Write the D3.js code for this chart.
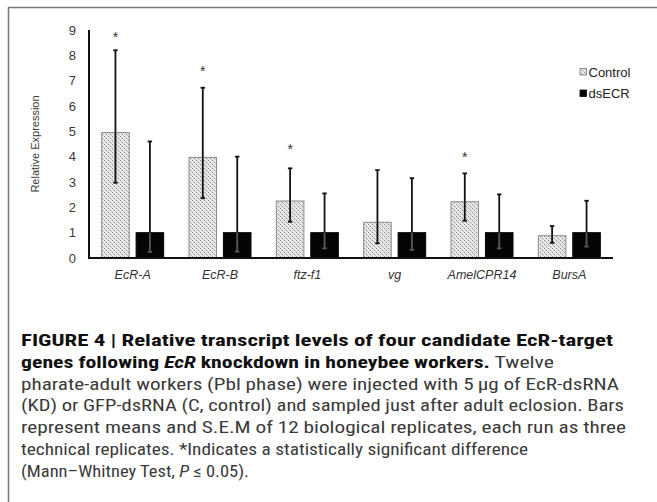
<!DOCTYPE html>
<html>
<head>
<meta charset="utf-8">
<script src="https://cdn.jsdelivr.net/npm/d3@7"></script>
<style>
body{margin:0;background:#fff;}
svg{display:block;}
</style>
</head>
<body>
<svg id="fig" width="657" height="502"></svg>
<script>
// values
var genes=["EcR-A","EcR-B","ftz-f1","vg","AmelCPR14","BursA"];
var groups=["Control","dsECR"];
var controlMean=[4.95,3.97,2.25,1.41,2.22,0.88];
var controlUpper=[8.2,6.72,3.54,3.47,3.34,1.26];
var controlLower=[2.97,2.36,1.43,0.58,1.47,0.6];
var dsecrMean=[1,1,1,1,1,1];
var dsecrUpper=[4.6,4.0,2.55,3.15,2.51,2.26];
var dsecrLower=[0.24,0.25,0.38,0.32,0.38,0.45];
var starAt=[8.8,7.45,4.4,null,4.05,null];
var yTicks=[0,1,2,3,4,5,6,7,8,9];

// caption lines: [text, style] pieces, style b=bold, i=italic
var caption=[
 [["FIGURE 4 | Relative transcript levels of four candidate EcR-target","b"]],
 [["genes following ","b"],["EcR","bi"],[" knockdown in honeybee workers.","b"],[" Twelve",""]],
 [["pharate-adult workers (Pbl phase) were injected with 5\u2009\u00b5g of EcR-dsRNA",""]],
 [["(KD) or GFP-dsRNA (C, control) and sampled just after adult eclosion. Bars",""]],
 [["represent means and S.E.M of 12 biological replicates, each run as three",""]],
 [["technical replicates. *Indicates a statistically significant difference",""]],
 [["(Mann\u2013Whitney Test, ",""],["P","i"],[" \u2264 0.05).",""]]
];
var captionWidth=[592,533,598,603,605,507,228];

var svg=d3.select("#fig");

var defs=svg.append("defs");
var pat=defs.append("pattern")
  .attr("id","dots")
  .attr("patternUnits","userSpaceOnUse")
  .attr("width",4).attr("height",4);
pat.append("rect").attr("width",4).attr("height",4).attr("fill","#e6e6e6");
pat.append("rect").attr("x",0).attr("y",0).attr("width",1).attr("height",1).attr("fill","#8f8f8f");
pat.append("rect").attr("x",2).attr("y",2).attr("width",1).attr("height",1).attr("fill","#8f8f8f");
pat.append("rect").attr("x",1).attr("y",1).attr("width",1).attr("height",1).attr("fill","#c8c8c8");
pat.append("rect").attr("x",3).attr("y",3).attr("width",1).attr("height",1).attr("fill","#c8c8c8");

// frame (top + left edges)
svg.append("line").attr("x1",8).attr("x2",657).attr("y1",7.5).attr("y2",7.5)
  .attr("stroke","#777").attr("stroke-width",1.5);
svg.append("line").attr("x1",8.5).attr("x2",8.5).attr("y1",7).attr("y2",502)
  .attr("stroke","#777").attr("stroke-width",1.5);

var y=d3.scaleLinear().domain([0,9]).range([258,30]);
var x0=d3.scaleBand().domain(genes).range([89,613]).paddingInner(0.29).paddingOuter(0.145);
var x1=d3.scaleBand().domain(groups).range([0,x0.bandwidth()]).paddingInner(0.2);

var rows=genes.map(function(g,i){
  return [
    {gene:g,grp:"Control",mean:controlMean[i],up:controlUpper[i],lo:controlLower[i]},
    {gene:g,grp:"dsECR",mean:dsecrMean[i],up:dsecrUpper[i],lo:dsecrLower[i]}
  ];
});
var bars=[].concat.apply([],rows);

var chart=svg.append("g").style("font-family","'Liberation Sans',Arial,sans-serif");

chart.selectAll("rect.bar")
  .data(bars)
  .join("rect")
  .attr("class","bar")
  .attr("x",d=>x0(d.gene)+x1(d.grp))
  .attr("y",d=>y(d.mean))
  .attr("width",x1.bandwidth())
  .attr("height",d=>y(0)-y(d.mean))
  .attr("fill",d=>d.grp=="Control"?"url(#dots)":"#050505")
  .attr("stroke",d=>d.grp=="Control"?"#8a8a8a":"#050505")
  .attr("stroke-width",1);

// error bars
var eb=chart.selectAll("g.err").data(bars).join("g").attr("class","err");
var cx=function(d){return x0(d.gene)+x1(d.grp)+x1.bandwidth()/2;};
eb.append("line")
  .attr("x1",cx).attr("x2",cx)
  .attr("y1",d=>y(d.up)).attr("y2",d=>y(d.mean))
  .attr("stroke","#111").attr("stroke-width",1.8);
eb.append("line")
  .attr("x1",cx).attr("x2",cx)
  .attr("y1",d=>y(d.mean)).attr("y2",d=>y(d.lo))
  .attr("stroke",d=>d.grp=="Control"?"#111":"#5a5a5a").attr("stroke-width",1.8);
eb.append("line")
  .attr("x1",d=>cx(d)-2.2).attr("x2",d=>cx(d)+2.2)
  .attr("y1",d=>y(d.up)).attr("y2",d=>y(d.up))
  .attr("stroke","#111").attr("stroke-width",1.8);
eb.append("line")
  .attr("x1",d=>cx(d)-2.2).attr("x2",d=>cx(d)+2.2)
  .attr("y1",d=>y(d.lo)).attr("y2",d=>y(d.lo))
  .attr("stroke",d=>d.grp=="Control"?"#111":"#5a5a5a").attr("stroke-width",1.8);

// significance stars
chart.selectAll("text.star")
  .data(genes.map((g,i)=>({gene:g,v:starAt[i]})).filter(d=>d.v!=null))
  .join("text")
  .attr("class","star")
  .attr("x",d=>x0(d.gene)+x1("Control")+x1.bandwidth()/2)
  .attr("y",d=>y(d.v)+7)
  .attr("text-anchor","middle")
  .style("font-size","14px")
  .attr("fill","#333")
  .text("*");

// axes
var yAxis=chart.append("g").attr("transform","translate(89,0)")
  .call(d3.axisLeft(y).tickValues(yTicks).tickSize(0).tickPadding(13).tickFormat(d3.format("d")));
yAxis.select(".domain").attr("stroke","#111").attr("stroke-width",2).attr("d","M0,"+y(9)+"V"+y(0));
yAxis.selectAll("text").style("font-size","13px").attr("fill","#3a3a3a").style("font-family","'Liberation Sans',Arial,sans-serif");

var xAxis=chart.append("g").attr("transform","translate(0,"+y(0)+")")
  .call(d3.axisBottom(x0).tickSize(0).tickPadding(12));
xAxis.select(".domain").attr("stroke","#111").attr("stroke-width",2).attr("d","M88,0H613");
xAxis.selectAll("text").style("font-size","12.5px").style("font-style","italic").attr("fill","#333")
  .style("font-family","'Liberation Sans',Arial,sans-serif");

chart.append("text")
  .attr("transform","translate(39,"+((y(0)+y(9))/2)+") rotate(-90)")
  .attr("text-anchor","middle")
  .style("font-size","11px")
  .attr("fill","#3a3a3a")
  .text("Relative Expression");

// legend
var leg=chart.selectAll("g.leg").data(groups).join("g").attr("class","leg")
  .attr("transform",(d,i)=>"translate(580,"+(72+i*21.5)+")");
leg.append("rect").attr("x",0).attr("y",-3.5).attr("width",6.5).attr("height",6.5)
  .attr("fill",d=>d=="Control"?"url(#dots)":"#050505")
  .attr("stroke",d=>d=="Control"?"#777":"#050505").attr("stroke-width",0.8);
leg.append("text").attr("x",8.5).attr("y",4.5).style("font-size","13px").attr("fill","#222").text(d=>d);

// caption
var cap=svg.append("g").style("font-family","'Liberation Sans Narrow','Roboto Condensed','Liberation Sans',sans-serif")
  .style("font-size","16.5px").attr("fill","#222");
caption.forEach(function(line,i){
  var t=cap.append("text").attr("x",21).attr("y",346+i*21.8);
  line.forEach(function(p){
    t.append("tspan")
      .style("font-weight",p[1].indexOf("b")>=0?"bold":"normal")
      .style("font-style",p[1].indexOf("i")>=0?"italic":"normal")
      .attr("fill",p[1].indexOf("b")>=0?"#111":"#3a3a3a")
      .text(p[0]);
  });
  t.attr("textLength",captionWidth[i]).attr("lengthAdjust","spacingAndGlyphs");
});
</script>
</body>
</html>
